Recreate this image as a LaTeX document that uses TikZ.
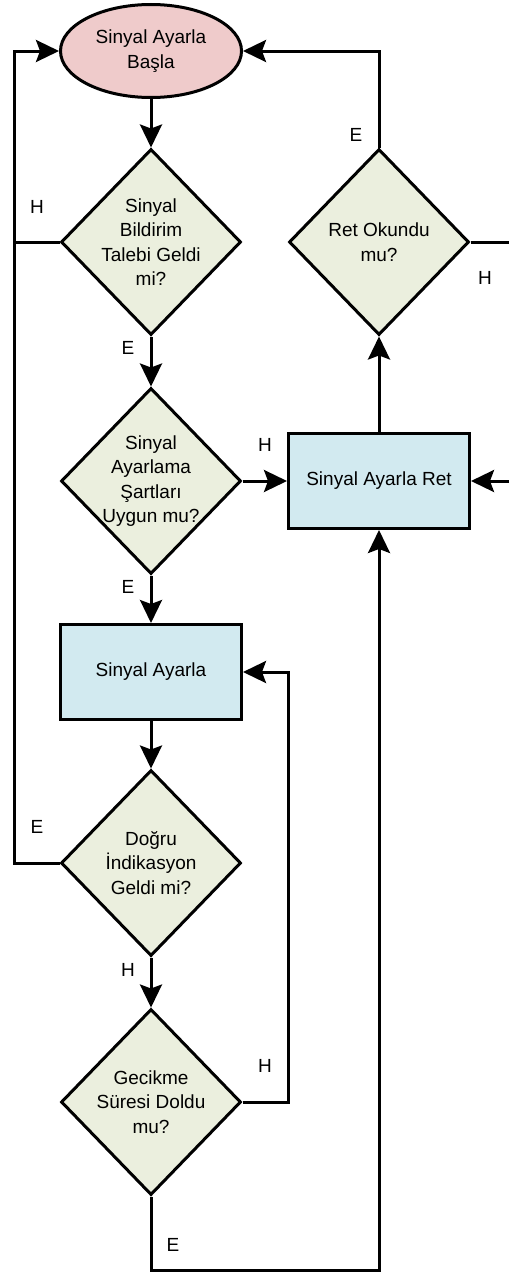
\documentclass[tikz,border=0pt]{standalone}
\usepackage{fontspec}
\setmainfont{Liberation Sans}
\usetikzlibrary{shapes.geometric,arrows.meta}
\definecolor{startfill}{RGB}{239,203,203}
\definecolor{procfill}{RGB}{210,234,240}
\definecolor{decfill}{RGB}{235,239,222}
\tikzset{
  every node/.style={font=\fontsize{19}{24.5}\selectfont},
  startnode/.style={ellipse, draw, line width=3pt, fill=startfill,
    minimum width=181pt, minimum height=93pt, inner sep=0pt, align=center},
  procbox/.style={rectangle, draw, line width=3pt, fill=procfill,
    minimum width=181pt, minimum height=95pt, inner sep=0pt, align=center},
  decbox/.style={diamond, draw, line width=3pt, fill=decfill,
    minimum width=180pt, minimum height=186pt, inner sep=0pt},
  dectext/.style={align=center, inner sep=0pt},
  flow/.style={line width=3pt, -{Stealth[length=23pt,width=22pt,inset=4pt]}},
  plain/.style={line width=3pt},
  lbl/.style={inner sep=0pt}
}
\begin{document}
\begin{tikzpicture}[x=1pt,y=-1pt]
\useasboundingbox (0,0) rectangle (509,1274);

% nodes
\node[startnode] (start) at (151,51) {Sinyal Ayarla\\Başla};
\node[decbox, label={[dectext]center:Sinyal\\Bildirim\\Talebi Geldi\\mi?}] (d1) at (151,242) {};
\node[decbox, label={[dectext]center:Sinyal\\Ayarlama\\Şartları\\Uygun mu?}] (d2) at (151,481) {};
\node[procbox] (ayarla) at (151,672) {Sinyal Ayarla};
\node[decbox, label={[dectext]center:Doğru\\İndikasyon\\Geldi mi?}] (d3) at (151,863) {};
\node[decbox, label={[dectext]center:Gecikme\\Süresi Doldu\\mu?}] (d4) at (151,1102) {};
\node[decbox, label={[dectext]center:Ret Okundu\\mu?}] (dr) at (379,242) {};
\node[procbox] (ret) at (379,481) {Sinyal Ayarla Ret};

% helper points
\coordinate (lt) at (14,51);
\coordinate (rx1) at (509,242);
\coordinate (rx2) at (509,481);
\coordinate (gk) at (288,672);
\coordinate (bc) at (379,1270);

% connectors
\draw[flow] (start) -- (d1);
\draw[flow] (d1) -- (d2);
\draw[flow] (d2) -- (ayarla);
\draw[flow] (d2) -- (ret);
\draw[flow] (ayarla) -- (d3);
\draw[flow] (d3) -- (d4);
\draw[flow] (ret) -- (dr);
\draw[flow] (d3.west) -| (lt) -- (start.west);
\draw[plain] (d1.west) -- (d1.west -| lt);
\draw[flow] (dr.north) |- (start.east);
\draw[plain] (dr.east) -- (rx1);
\draw[flow] (rx2) -- (ret.east);
\draw[flow] (d4.east) -| (gk) -- (ayarla.east);
\draw[flow] (d4.south) |- (bc) -- (ret.south);

% branch labels
\node[lbl] (l1) at (37,207) {H};
\node[lbl] (l2) at (356,135) {E};
\node[lbl] (l3) at (485,278) {H};
\node[lbl] (l4) at (128,348) {E};
\node[lbl] (l5) at (265,445) {H};
\node[lbl] (l6) at (128,587) {E};
\node[lbl] (l7) at (37,827) {E};
\node[lbl] (l8) at (128,970) {H};
\node[lbl] (l9) at (265,1066) {H};
\node[lbl] (l10) at (173,1245) {E};
\end{tikzpicture}
\end{document}
